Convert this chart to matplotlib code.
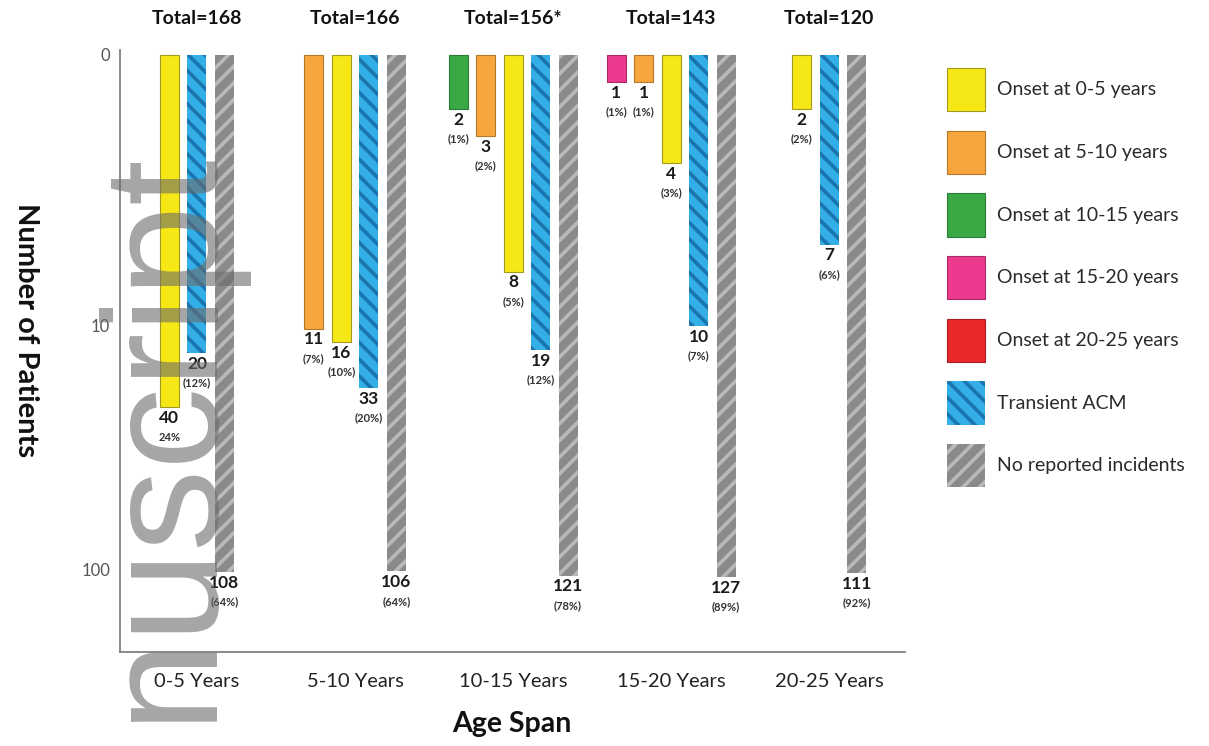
import numpy as np
import matplotlib
matplotlib.use("Agg")
import matplotlib.pyplot as plt
from matplotlib.patches import Patch

# ---- data -------------------------------------------------------------
age_spans = ["0-5 Years", "5-10 Years", "10-15 Years", "15-20 Years", "20-25 Years"]
totals = ["Total=168", "Total=166", "Total=156*", "Total=143", "Total=120"]

series_names = ["Onset at 0-5 years", "Onset at 5-10 years", "Onset at 10-15 years",
                "Onset at 15-20 years", "Onset at 20-25 years", "Transient ACM",
                "No reported incidents"]

onset_0_5 = [40, 16, 8, 4, 2]
onset_5_10 = [0, 11, 3, 1, 0]
onset_10_15 = [0, 0, 2, 0, 0]
onset_15_20 = [0, 0, 0, 1, 0]
onset_20_25 = [0, 0, 0, 0, 0]
transient_acm = [20, 33, 19, 10, 7]
no_incidents = [108, 106, 121, 127, 111]

pct_0_5 = ["24%", "(10%)", "(5%)", "(3%)", "(2%)"]
pct_5_10 = ["", "(7%)", "(2%)", "(1%)", ""]
pct_10_15 = ["", "", "(1%)", "", ""]
pct_15_20 = ["", "", "", "(1%)", ""]
pct_20_25 = ["", "", "", "", ""]
pct_acm = ["(12%)", "(20%)", "(12%)", "(7%)", "(6%)"]
pct_none = ["(64%)", "(64%)", "(78%)", "(89%)", "(92%)"]

y_ticks = [0, 10, 100]

# ---- styling ----------------------------------------------------------
plt.rcParams["font.family"] = ["Lato", "DejaVu Sans"]
plt.rcParams["hatch.linewidth"] = 2.6

styles = {
    "Onset at 0-5 years":   dict(facecolor="#f6e717", edgecolor="#a39a22", linewidth=0.8),
    "Onset at 5-10 years":  dict(facecolor="#f6a63d", edgecolor="#b5782a", linewidth=0.8),
    "Onset at 10-15 years": dict(facecolor="#3aa845", edgecolor="#2b7d33", linewidth=0.8),
    "Onset at 15-20 years": dict(facecolor="#ec3a8f", edgecolor="#a82a66", linewidth=0.8),
    "Onset at 20-25 years": dict(facecolor="#e8282a", edgecolor="#a81e20", linewidth=0.8),
    "Transient ACM":        dict(facecolor="#34aee6", edgecolor="#1a74ad", hatch="\\\\", linewidth=0),
    "No reported incidents": dict(facecolor="#8a8a8a", edgecolor="#b9b9b9", hatch="//", linewidth=0),
}

values = {
    "Onset at 0-5 years": onset_0_5, "Onset at 5-10 years": onset_5_10,
    "Onset at 10-15 years": onset_10_15, "Onset at 15-20 years": onset_15_20,
    "Onset at 20-25 years": onset_20_25, "Transient ACM": transient_acm,
    "No reported incidents": no_incidents,
}
percents = {
    "Onset at 0-5 years": pct_0_5, "Onset at 5-10 years": pct_5_10,
    "Onset at 10-15 years": pct_10_15, "Onset at 15-20 years": pct_15_20,
    "Onset at 20-25 years": pct_20_25, "Transient ACM": pct_acm,
    "No reported incidents": pct_none,
}
# left-to-right order of bars inside each age span
draw_order = ["Onset at 20-25 years", "Onset at 15-20 years", "Onset at 10-15 years",
              "Onset at 5-10 years", "Onset at 0-5 years", "Transient ACM",
              "No reported incidents"]


# piecewise "decade" scale: 0-10 linear, 10-100 compressed, >100 compressed again
def fwd(v):
    v = np.asarray(v, dtype=float)
    return np.where(v <= 10, v / 10.0,
                    np.where(v <= 100, 1 + (v - 10) / 90.0 * 0.9,
                             1.9 + (v - 100) / 1000.0))


def inv(u):
    u = np.asarray(u, dtype=float)
    return np.where(u <= 1, u * 10.0,
                    np.where(u <= 1.9, 10 + (u - 1) / 0.9 * 90.0,
                             100 + (u - 1.9) * 1000.0))


W, H = 1209, 746
fig = plt.figure(figsize=(W / 100, H / 100), dpi=100)
ax = fig.add_axes([120 / W, 1 - 652 / H, (905 - 120) / W, (652 - 50) / H])
ax.set_yscale("function", functions=(fwd, inv))
ax.set_ylim(403, -0.18)
ax.set_xlim(-0.487, 4.48)

pitch, width = 0.174, 0.12
for gi in range(len(age_spans)):
    present = [s for s in draw_order if values[s][gi] > 0]
    n = len(present)
    for k, s in enumerate(present):
        x = gi + (k - (n - 1) / 2) * pitch
        v = values[s][gi]
        ax.bar(x, v, width=width, bottom=0, zorder=2, **styles[s])
        ax.annotate(str(v), (x, v), xytext=(0, -2), textcoords="offset points",
                    ha="center", va="top", fontsize=12.5, fontweight="bold",
                    color="#1a1a1a", zorder=3)
        ax.annotate(percents[s][gi], (x, v), xytext=(0, -17.5), textcoords="offset points",
                    ha="center", va="top", fontsize=8, fontweight="bold",
                    color="#333333", zorder=3)
    ax.text(gi, 1.053, totals[gi], transform=ax.get_xaxis_transform(),
            ha="center", va="center", fontsize=14, fontweight="bold", color="#111111")

ax.set_xticks(range(len(age_spans)))
ax.set_xticklabels(age_spans, fontsize=14.5, color="#222222")
ax.set_yticks(y_ticks)
ax.set_yticklabels([str(t) for t in y_ticks], fontsize=12, color="#555555")
ax.yaxis.set_minor_locator(matplotlib.ticker.NullLocator())
ax.tick_params(axis="x", length=0, pad=15)
ax.tick_params(axis="y", length=0, pad=7)
for side in ("top", "right"):
    ax.spines[side].set_visible(False)
for side in ("left", "bottom"):
    ax.spines[side].set_color("#808080")
    ax.spines[side].set_linewidth(1.3)

fig.text(26 / W, 1 - 330 / H, "Number of Patients", rotation=270, ha="center",
         va="center", fontsize=21, fontweight="bold", color="#111111")
fig.text(512 / W, 1 - 724 / H, "Age Span", ha="center", va="center",
         fontsize=20.5, fontweight="bold", color="#111111")

handles = [Patch(label=s, **styles[s]) for s in series_names]
fs_leg = 14
em = fs_leg * 100 / 72
fig.legend(handles=handles, loc="upper left", bbox_to_anchor=(947 / W, 1 - 68 / H),
           frameon=False, prop=dict(size=fs_leg, weight="normal"),
           handlelength=38 / em, handleheight=3.04,
           labelspacing=19.5 / em, handletextpad=12 / em, borderpad=0, borderaxespad=0,
           labelcolor="#2a2a2a")

# "Accepted Manuscript" style watermark running up the left side
fig.text(207 / W, 1 - 722 / H, "nuscript", rotation=90, rotation_mode="anchor",
         ha="left", va="baseline", fontsize=118, family="Liberation Sans",
         color="#6b6b6b", alpha=0.6, zorder=10)

fig.savefig("out.png", dpi=100)
